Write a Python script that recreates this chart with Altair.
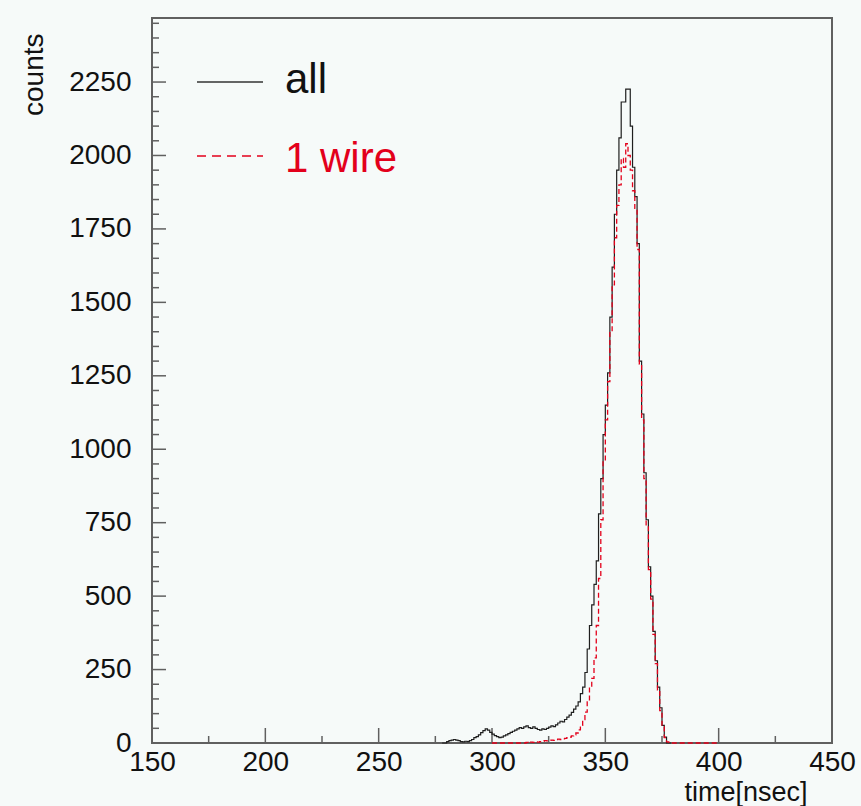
import altair as alt
import pandas as pd

# ---------------- data ----------------
ALL_FIRST_BIN = 278          # lower edge of the first 1-ns bin of "all"
all_counts = [
    0, 0, 5, 8, 10, 12, 10, 8, 5, 4,            # 278-287
    6, 5, 8, 12, 18, 22, 28, 35, 42, 48,        # 288-297
    44, 36, 30, 25, 22, 18, 20, 24, 28, 32,     # 298-307
    36, 40, 44, 48, 52, 50, 55, 58, 52, 50,     # 308-317
    55, 50, 46, 44, 48, 46, 50, 54, 58, 56,     # 318-327
    62, 68, 74, 72, 80, 88, 95, 104, 115, 126,  # 328-337
    140, 168, 190, 240, 320, 400, 470, 540, 620, 780,   # 338-347
    900, 1050, 1150, 1260, 1450, 1620, 1800, 1950, 2060, 2182,  # 348-357
    2182, 2226, 2226, 2100, 1960, 1860, 1700, 1300, 1120, 920,  # 358-367
    760, 600, 500, 380, 280, 190, 120, 60, 20, 0,   # 368-377
    0,                                              # 378
]

WIRE1_FIRST_BIN = 300
wire1_counts = [
    0, 0, 0, 0, 0, 0, 0, 0, 0, 0,               # 300-309
    0, 0, 0, 0, 0, 2, 0, 3, 2, 4,               # 310-319
    3, 5, 6, 8, 7, 9, 10, 9, 12, 13,            # 320-329
    12, 14, 16, 18, 20, 24, 28, 34, 45, 60,     # 330-339
    80, 105, 140, 190, 220, 290, 400, 560, 760, 960,    # 340-349
    1100, 1230, 1400, 1560, 1720, 1830, 1900, 1990, 1960, 2040,  # 350-359
    2000, 1950, 1880, 1820, 1680, 1290, 1100, 900, 740, 590,    # 360-369
    490, 370, 270, 180, 110, 55, 18, 4, 0, 0,   # 370-379
    0, 0, 0, 0, 0, 0, 0, 0, 0, 0,               # 380-389
    0, 0, 0, 0, 0, 0, 0, 0, 0, 0,               # 390-399
]

legend_labels = ["all", "1 wire"]
x_title = "time[nsec]"
y_title = "counts"

x_major = [150, 200, 250, 300, 350, 400, 450]
x_minor = [175, 225, 275, 325, 375, 425]
y_major = [0, 250, 500, 750, 1000, 1250, 1500, 1750, 2000, 2250]
y_minor = [v for v in range(50, 2451, 50) if v % 250 != 0]

X_DOMAIN = [150, 450]
Y_DOMAIN = [0, 2468]

# ---------------- styling ----------------
FONT = "Liberation Sans"
BG = "#f6faf9"
FRAME = "#606060"
BLACK = "#1e1e1e"
RED = "#e3001b"
W, H = 680, 725


def hist_frame(first, counts):
    edges = [first + i for i in range(len(counts) + 1)]
    vals = list(counts) + [counts[-1]]
    return pd.DataFrame({"t": edges, "c": vals})


xscale = alt.Scale(domain=X_DOMAIN, nice=False, zero=False)
yscale = alt.Scale(domain=Y_DOMAIN, nice=False, zero=False)

xaxis = alt.Axis(
    values=x_major, format="d", ticks=False, tickSize=0, domain=False, grid=False,
    labelFont=FONT, labelFontSize=28, labelColor="#111", labelPadding=5,
    labelFlush=False, labelOverlap=False,
    title=x_title, titleFont=FONT, titleFontSize=27, titleFontWeight="normal",
    titleColor="#111", titleAnchor="end", titleAlign="right",
    titleBaseline="alphabetic", titleX=655, titleY=57,
)
yaxis = alt.Axis(
    values=y_major, format="d", ticks=False, tickSize=0, domain=False, grid=False,
    labelFont=FONT, labelFontSize=28, labelColor="#111", labelPadding=21,
    labelOverlap=False,
    title=y_title, titleFont=FONT, titleFontSize=28, titleFontWeight="normal",
    titleColor="#111", titleAngle=270, titleAlign="right",
    titleBaseline="alphabetic", titleX=-110, titleY=15,
)


def X():
    return alt.X("t:Q", scale=xscale, axis=xaxis)


def Y():
    return alt.Y("c:Q", scale=yscale, axis=yaxis)


all_df = hist_frame(ALL_FIRST_BIN, all_counts)
wire_df = hist_frame(WIRE1_FIRST_BIN, wire1_counts)

line_all = alt.Chart(all_df).mark_line(
    interpolate="step-after", color=BLACK, strokeWidth=1.2
).encode(x=X(), y=Y())

line_wire = alt.Chart(wire_df).mark_line(
    interpolate="step-after", color=RED, strokeWidth=1.3, strokeDash=[5, 3]
).encode(x=X(), y=Y())

# inner tick marks (ROOT style)
ymaj = alt.Chart(pd.DataFrame({"c": y_major})).mark_rule(
    color=FRAME, strokeWidth=1.5
).encode(y=Y(), x=alt.value(0), x2=alt.value(14))
ymin = alt.Chart(pd.DataFrame({"c": y_minor})).mark_rule(
    color=FRAME, strokeWidth=1.5
).encode(y=Y(), x=alt.value(0), x2=alt.value(7))
xmaj = alt.Chart(pd.DataFrame({"t": x_major})).mark_rule(
    color=FRAME, strokeWidth=1.5
).encode(x=X(), y=alt.value(H), y2=alt.value(H - 15))
xmin = alt.Chart(pd.DataFrame({"t": x_minor})).mark_rule(
    color=FRAME, strokeWidth=1.5
).encode(x=X(), y=alt.value(H), y2=alt.value(H - 7))

# legend (drawn as decoration)
leg_df0 = pd.DataFrame({"label": [legend_labels[0]]})
leg_df1 = pd.DataFrame({"label": [legend_labels[1]]})
leg_line0 = alt.Chart(leg_df0).mark_rule(color="#333", strokeWidth=1.3).encode(
    x=alt.value(45), x2=alt.value(111), y=alt.value(64))
leg_line1 = alt.Chart(leg_df1).mark_rule(color=RED, strokeWidth=1.3,
                                         strokeDash=[9, 6]).encode(
    x=alt.value(45), x2=alt.value(111), y=alt.value(138))
leg_text0 = alt.Chart(leg_df0).mark_text(
    font=FONT, fontSize=42, color="#111", align="left", baseline="alphabetic"
).encode(text="label:N", x=alt.value(133), y=alt.value(75))
leg_text1 = alt.Chart(leg_df1).mark_text(
    font=FONT, fontSize=42, color=RED, align="left", baseline="alphabetic"
).encode(text="label:N", x=alt.value(133), y=alt.value(154))

chart = alt.layer(
    xmin, xmaj, ymin, ymaj, line_all, line_wire,
    leg_line0, leg_line1, leg_text0, leg_text1,
).properties(
    width=W, height=H,
    padding={"left": 152, "top": 18, "right": 29, "bottom": 63},
    autosize=alt.AutoSizeParams(type="none"),
    background=BG,
).configure_view(
    stroke=FRAME, strokeWidth=2, fill=BG
)

chart.save("out.html", embed_options={"renderer": "svg", "actions": False})
